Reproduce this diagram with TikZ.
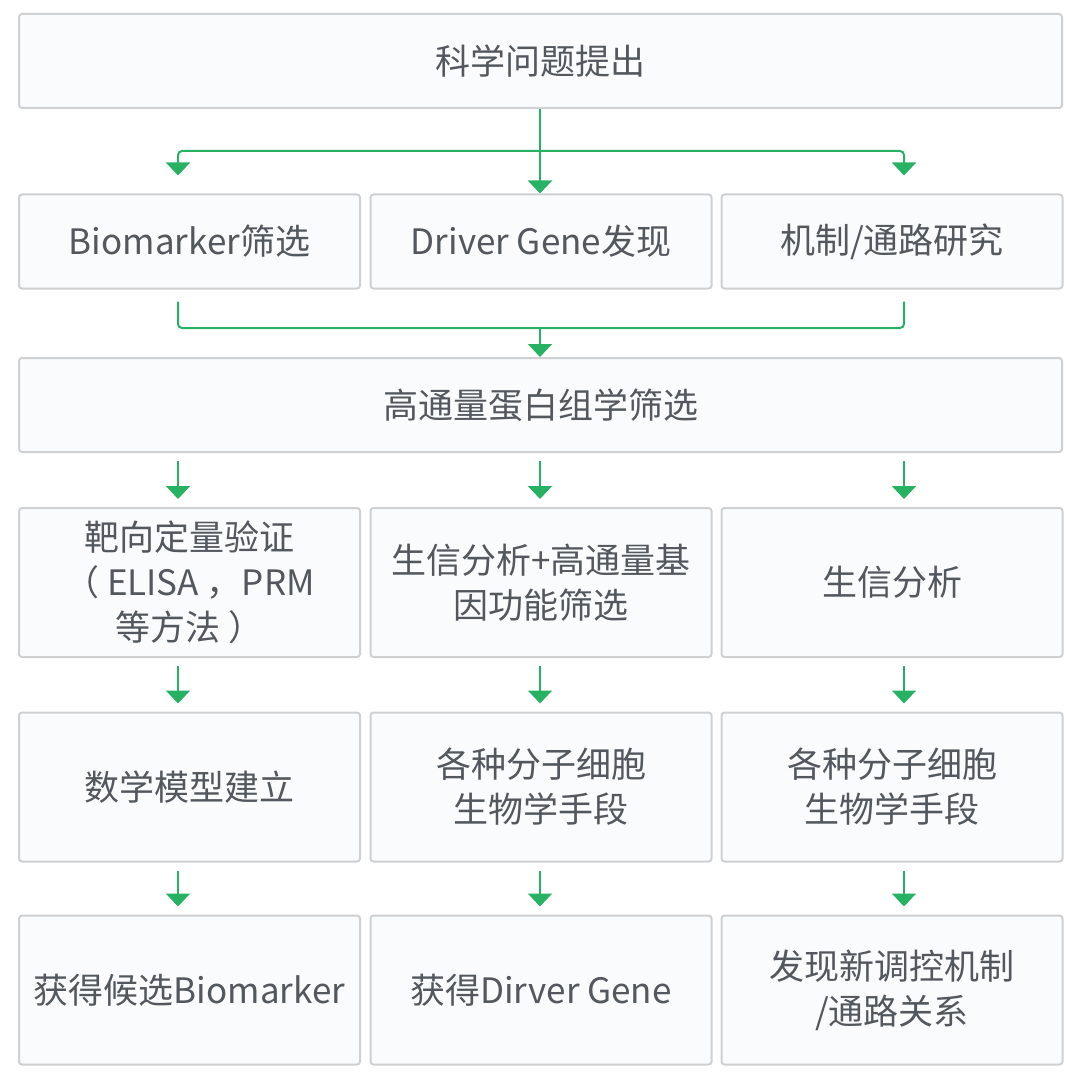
\documentclass[tikz,border=0pt]{standalone}
\usepackage{fontspec}
\setmainfont{Noto Sans CJK SC}
\usepackage{xcolor}
\usetikzlibrary{arrows.meta,positioning,calc}
\definecolor{flowgreen}{RGB}{38,178,98}
\definecolor{boxline}{RGB}{206,208,210}
\definecolor{boxfill}{RGB}{250,251,252}
\definecolor{textgray}{RGB}{82,88,94}

\begin{document}
\begin{tikzpicture}[x=0.5pt, y=-0.5pt,
  box/.style={rectangle, draw=boxline, line width=1pt, fill=boxfill, rounded corners=1.5pt,
    align=center, text=textgray, font=\fontsize{17.5}{22.5}\selectfont, inner sep=0pt},
  wide/.style={box, minimum width=521.5pt, minimum height=47pt},
  cell/.style={box, minimum width=170.5pt, minimum height=74.5pt},
  short/.style={box, minimum width=170.5pt, minimum height=47pt},
  link/.style={draw=flowgreen, line width=1pt, rounded corners=2pt},
  flow/.style={link, -{Triangle[width=12pt,length=6.5pt]}, fill=none}
]
\useasboundingbox (0,0) rectangle (1080,1075);

% columns of the arrows
\coordinate (cL) at (178,0);
\coordinate (cM) at (540,0);
\coordinate (cR) at (904,0);

% Question and directions
\node[wide] (question) at (540.5,61) {科学问题提出};
\node[short] (bio) at (189.5,241.5) {Biomarker筛选};
\node[short] (driver) at (541,241.5) {Driver Gene发现};
\node[short] (mech) at (892,241.5) {机制/通路研究};

% Screening
\node[wide] (omics) at (540.5,405) {高通量蛋白组学筛选};

% Biomarker path
\node[cell] (quant) at (189.5,582.5) {靶向定量验证\\（ ELISA ，PRM\\等方法 ）};
\node[cell] (model) at (189.5,787) {数学模型建立};
\node[cell] (getbio) at (189.5,990) {获得候选Biomarker};

% Driver gene path
\node[cell] (bioinfo) at (541,582.5) {生信分析+高通量基\\因功能筛选};
\node[cell] (molbio) at (541,787) {各种分子细胞\\生物学手段};
\node[cell] (getgene) at (541,990) {获得Dirver Gene};

% Mechanism path
\node[cell] (analysis) at (892,582.5) {生信分析};
\node[cell] (molbio2) at (892,787) {各种分子细胞\\生物学手段};
\node[cell] (getmech) at (892,990) {发现新调控机制\\/通路关系};

% Split
\coordinate (split) at (540,151);
\draw[flow] (question.south -| cM) -- (driver.north -| cM);
\draw[flow, shorten >=9pt] (split) -| (bio.north -| cL);
\draw[flow, shorten >=9pt] (split) -| (mech.north -| cR);

% Merge
\coordinate (merge) at (540,328);
\draw[link, shorten <=6pt, shorten >=6pt] (bio.south -| cL) -- (merge -| cL) -- (merge -| cR) -- (mech.south -| cR);
\draw[flow] (merge) -- (omics.north -| cM);

% Rows
\begin{scope}[flow, shorten <=4pt, shorten >=4pt]
\draw (omics.south -| cL) -- (quant.north -| cL);
\draw (omics.south -| cM) -- (bioinfo.north -| cM);
\draw (omics.south -| cR) -- (analysis.north -| cR);
\draw (quant.south -| cL) -- (model.north -| cL);
\draw (bioinfo.south -| cM) -- (molbio.north -| cM);
\draw (analysis.south -| cR) -- (molbio2.north -| cR);
\draw (model.south -| cL) -- (getbio.north -| cL);
\draw (molbio.south -| cM) -- (getgene.north -| cM);
\draw (molbio2.south -| cR) -- (getmech.north -| cR);
\end{scope}

\end{tikzpicture}
\end{document}
